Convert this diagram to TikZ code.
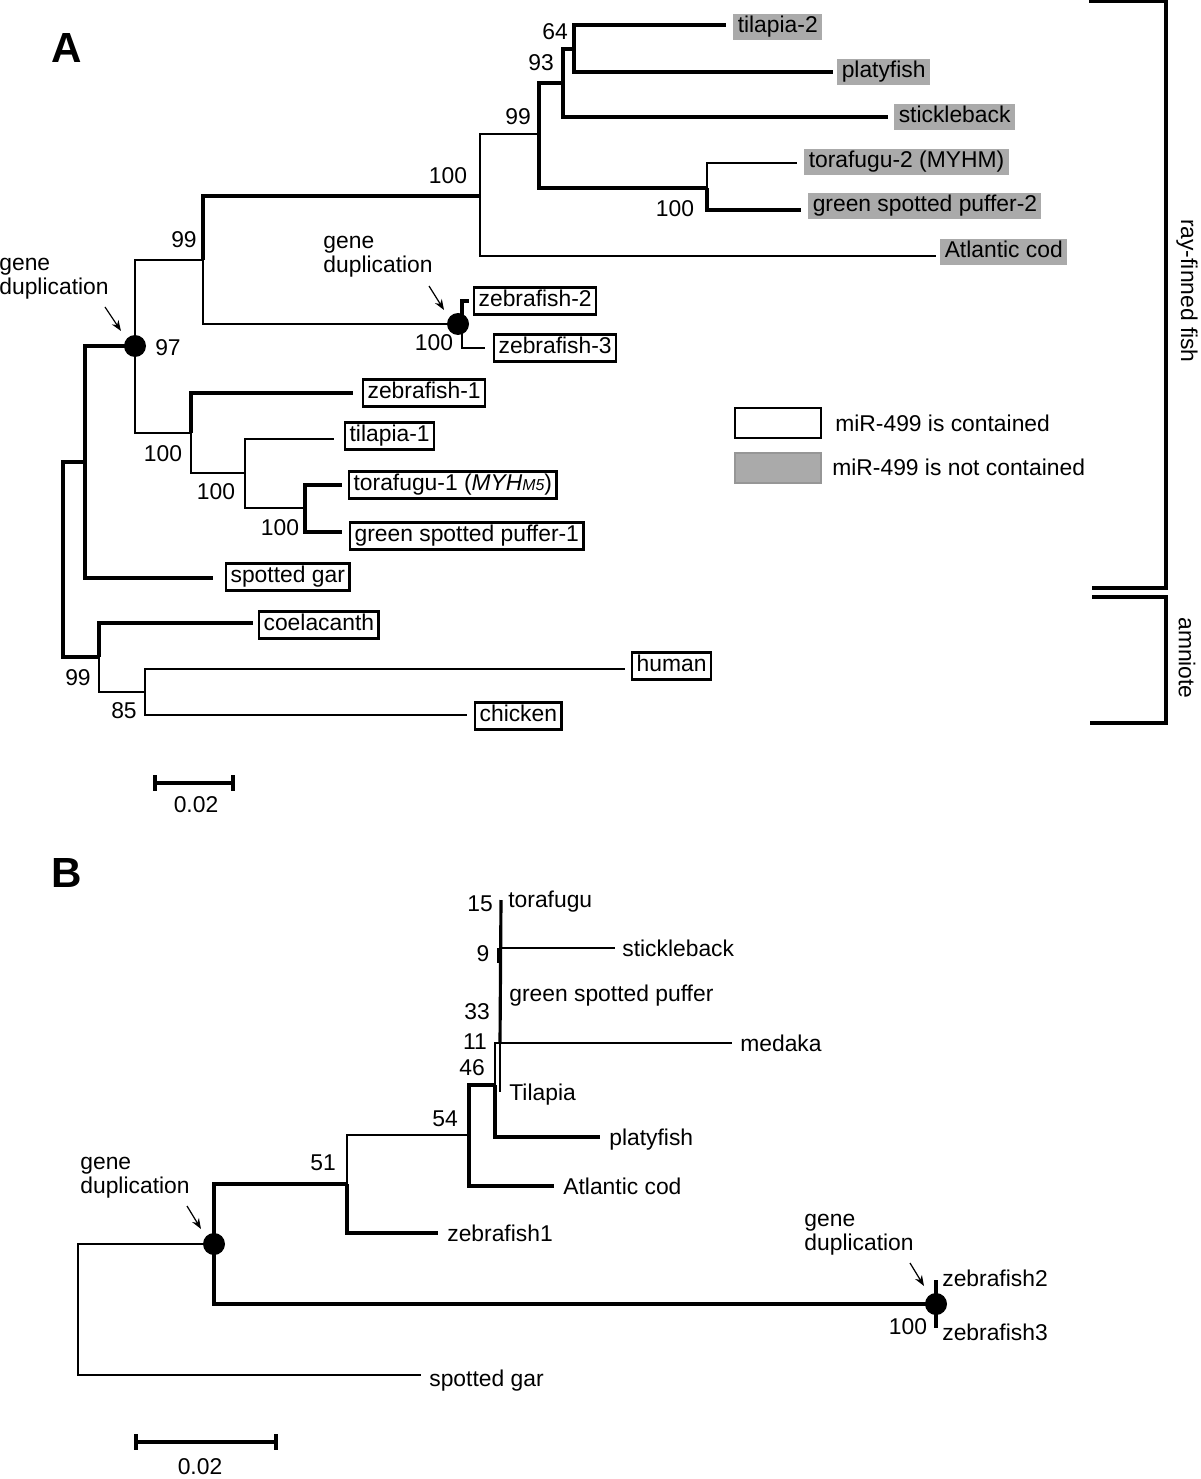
\documentclass[tikz,border=0pt]{standalone}
\usepackage{fontspec}
\setmainfont{Liberation Sans}
\usetikzlibrary{arrows.meta,positioning}

\definecolor{boxgray}{RGB}{170,170,170}
\definecolor{keygray}{RGB}{150,150,150}

\tikzset{
  thickbr/.style={line width=1.8pt},
  thinbr/.style={line width=1.1pt},
  tag/.style={anchor=west, inner xsep=2.5pt, inner ysep=1.5pt, text height=9.4pt, text depth=2.8pt},
  wbox/.style={tag, draw, line width=1.4pt},
  gbox/.style={tag, fill=boxgray},
  lab/.style={anchor=west, inner sep=0pt, text height=9.4pt, text depth=2.8pt, yshift=-1.4pt},
  bs/.style={inner sep=0pt},
  dupdot/.style={circle, fill=black, inner sep=0pt, minimum size=0.44cm},
  duptext/.style={align=left, inner sep=0pt},
  duparrow/.style={-{Stealth[length=6pt,width=4.5pt]}, line width=0.7pt},
  panel/.style={font=\fontsize{24}{24}\selectfont\bfseries, inner sep=0pt},
  clade/.style={line width=2pt},
  scalebar/.style={line width=2pt, {Bar[width=9pt]}-{Bar[width=9pt]}}
}

\begin{document}
\begin{tikzpicture}[x=0.02cm, y=-0.02cm, font=\fontsize{13}{13.6}\selectfont]

\useasboundingbox (0,0) rectangle (1200,1479);

\node[panel] (A) at (67,48) {A};
\node[panel] (B) at (67,873) {B};

% tree A
\coordinate (rootA) at (63,560);
\coordinate (nAct) at (85,462);
\coordinate (dup1) at (135,346);
\coordinate (n99a) at (203,260);
\coordinate (n100a) at (480,196);
\coordinate (n99b) at (539,134);
\coordinate (n93) at (563,83);
\coordinate (n64) at (574,49);
\coordinate (n100b) at (707,188);
\coordinate (dup2) at (462,324);
\coordinate (n100c) at (191,433);
\coordinate (n100d) at (245,473);
\coordinate (n100e) at (305,508);
\coordinate (nSarc) at (99,657);
\coordinate (nAmn) at (145,692);

\coordinate (tTila2) at (726,25);
\coordinate (tPlaty) at (833,72);
\coordinate (tStick) at (888,117);
\coordinate (tTora2) at (797,163);
\coordinate (tGsp2) at (801,210);
\coordinate (tCod) at (936,256);
\coordinate (tZf2) at (469,301);
\coordinate (tZf3) at (485,348);
\coordinate (tZf1) at (353,393);
\coordinate (tTila1) at (334,439);
\coordinate (tTora1) at (342,485);
\coordinate (tGsp1) at (342,532);
\coordinate (tGar) at (213,578);
\coordinate (tCoel) at (253,623);
\coordinate (tHuman) at (625,669);
\coordinate (tChick) at (467,715);

\draw[thickbr] (rootA) |- (nAct);
\draw[thickbr] (rootA) |- (nSarc);
\draw[thickbr] (nAct) |- (dup1);
\draw[thickbr] (nAct) |- (tGar);
\draw[thinbr] (dup1) |- (n99a);
\draw[thinbr] (dup1) |- (n100c);
\draw[thickbr] (n99a) |- (n100a);
\draw[thinbr] (n99a) |- (dup2);
\draw[thinbr] (n100a) |- (n99b);
\draw[thinbr] (n100a) |- (tCod);
\draw[thickbr] (n99b) |- (n93);
\draw[thickbr] (n99b) |- (n100b);
\draw[thickbr] (n93) |- (n64);
\draw[thickbr] (n93) |- (tStick);
\draw[thickbr] (n64) |- (tTila2);
\draw[thickbr] (n64) |- (tPlaty);
\draw[thinbr] (n100b) |- (tTora2);
\draw[thickbr] (n100b) |- (tGsp2);
\draw[thickbr] (dup2) |- (tZf2);
\draw[thinbr] (dup2) |- (tZf3);
\draw[thickbr] (n100c) |- (tZf1);
\draw[thinbr] (n100c) |- (n100d);
\draw[thinbr] (n100d) |- (tTila1);
\draw[thinbr] (n100d) |- (n100e);
\draw[thickbr] (n100e) |- (tTora1);
\draw[thickbr] (n100e) |- (tGsp1);
\draw[thickbr] (nSarc) |- (tCoel);
\draw[thinbr] (nSarc) |- (nAmn);
\draw[thinbr] (nAmn) |- (tHuman);
\draw[thinbr] (nAmn) |- (tChick);

\node[dupdot] (dotA1) at (dup1) {};
\node[dupdot] (dotA2) at ([xshift=-0.08cm]dup2) {};

\node[gbox] (tila2) at (733,27) {tilapia-2};
\node[gbox] (platy) at (837,72) {platyfish};
\node[gbox] (stick) at (894,117) {stickleback};
\node[gbox] (tora2) at (804,162) {torafugu-2 (MYHM)\hspace{5pt}};
\node[gbox] (gsp2) at (808,206) {green spotted puffer-2};
\node[gbox] (cod) at (940,252) {Atlantic cod};
\node[wbox] (zf2) at (473,301) {zebrafish-2};
\node[wbox] (zf3) at (493,348) {zebrafish-3};
\node[wbox] (zf1) at (362,393) {zebrafish-1};
\node[wbox] (tila1) at (344,436) {tilapia-1};
\node[wbox] (tora1) at (348,485) {torafugu-1 (\textit{MYH}{\fontsize{9}{9}\selectfont\itshape M5})};
\node[wbox] (gsp1) at (349,536) {green spotted puffer-1};
\node[wbox] (gar) at (225,577) {spotted gar};
\node[wbox] (coel) at (258,625) {coelacanth};
\node[wbox] (human) at (631,666) {human};
\node[wbox] (chick) at (474,716) {chicken};

\node[bs] (b64) at (555,32) {64};
\node[bs] (b93) at (541,63) {93};
\node[bs] (b99b) at (518,117) {99};
\node[bs] (b100b) at (675,209) {100};
\node[bs] (b100a) at (448,176) {100};
\node[bs] (b99a) at (184,240) {99};
\node[bs] (b97) at (168,348) {97};
\node[bs] (b100z) at (434,343) {100};
\node[bs] (b100c) at (163,454) {100};
\node[bs] (b100d) at (216,492) {100};
\node[bs] (b100e) at (280,528) {100};
\node[bs] (b99s) at (78,678) {99};
\node[bs] (b85) at (124,711) {85};

\node[duptext] (gdA1) at (54,279) {gene\\duplication};
\node[duptext] (gdA2) at (378,257) {gene\\duplication};
\coordinate (aA1) at (105,307);
\coordinate (aA1e) at (121,331);
\coordinate (aA2) at (429,286);
\coordinate (aA2e) at (444,310);
\draw[duparrow] (aA1) -- (aA1e);
\draw[duparrow] (aA2) -- (aA2e);

\draw[scalebar] (153,783) -- (235,783);
\node[bs] (sA) at (196,805) {0.02};

% legend
\node[draw, line width=1.4pt, minimum width=1.72cm, minimum height=0.6cm, inner sep=0pt] (keyw) at (778,423) {};
\node[draw=keygray, fill=boxgray, line width=1.4pt, minimum width=1.72cm, minimum height=0.6cm, inner sep=0pt] (keyg) at (778,468) {};
\node[lab] (keywt) at (835,423) {miR-499 is contained};
\node[lab] (keygt) at (832,467) {miR-499 is not contained};

% clades
\draw[clade] (1089,1) -- (1166,1) -- (1166,588) -- (1092,588);
\draw[clade] (1092,597) -- (1166,597) -- (1166,723) -- (1090,723);
\node[rotate=-90, inner sep=0pt] (ray) at (1187,291) {ray-finned fish};
\node[rotate=-90, inner sep=0pt] (amn) at (1187,658) {amniote};

% tree B
\coordinate (rootB) at (78,1310);
\coordinate (dupB1) at (214,1244);
\coordinate (n51) at (347,1184);
\coordinate (n54) at (469,1135);
\coordinate (n46) at (495,1085);
\coordinate (n11) at (500,1043);
\coordinate (n9) at (501,948);
\coordinate (dupB2) at (936,1304);

\coordinate (tGarB) at (421,1375);
\coordinate (tZf1B) at (438,1233);
\coordinate (tCodB) at (554,1186);
\coordinate (tPlatyB) at (600,1137);
\coordinate (tMedB) at (732,1043);
\coordinate (tTilaB) at (500,1092);
\coordinate (tStickB) at (615,948);
\coordinate (tToraB) at (501,900);
\coordinate (tZf2B) at (936,1280);
\coordinate (tZf3B) at (936,1328);

\draw[thinbr] (rootB) |- (dupB1);
\draw[thinbr] (rootB) |- (tGarB);
\draw[thickbr] (dupB1) |- (n51);
\draw[thickbr] (dupB1) |- (dupB2);
\draw[thinbr] (n51) |- (n54);
\draw[thickbr] (n51) |- (tZf1B);
\draw[thickbr] (n54) |- (n46);
\draw[thickbr] (n54) |- (tCodB);
\draw[thinbr] (n46) |- (n11);
\draw[thickbr] (n46) |- (tPlatyB);
\draw[thinbr] (n11) -- (tMedB);
\draw[thinbr] (n11) -- (tTilaB);
\draw[thickbr] (n11) -- (tToraB);
\draw[thinbr] (n9) -- (tStickB);
\draw[thinbr] ([xshift=-0.06cm]n9) -- ++(0,15);
\draw[thickbr] (dupB2) -- (tZf2B);
\draw[thickbr] (dupB2) -- (tZf3B);

\node[dupdot] (dotB1) at (dupB1) {};
\node[dupdot] (dotB2) at (dupB2) {};

\node[lab] (toraB) at (508,899) {torafugu};
\node[lab] (stickB) at (622,948) {stickleback};
\node[lab] (gspB) at (509,993) {green spotted puffer};
\node[lab] (medB) at (740,1043) {medaka};
\node[lab] (tilaB) at (509,1092) {Tilapia};
\node[lab] (platyB) at (609,1137) {platyfish};
\node[lab] (codB) at (563,1186) {Atlantic cod};
\node[lab] (zf1B) at (447,1233) {zebrafish1};
\node[lab] (zf2B) at (942,1278) {zebrafish2};
\node[lab] (zf3B) at (942,1332) {zebrafish3};
\node[lab] (garB) at (429,1378) {spotted gar};

\node[bs] (b15) at (480,904) {15};
\node[bs] (b9) at (483,954) {9};
\node[bs] (b33) at (477,1012) {33};
\node[bs] (b11) at (475,1042) {11};
\node[bs] (b46) at (472,1068) {46};
\node[bs] (b54) at (445,1119) {54};
\node[bs] (b51) at (323,1163) {51};
\node[bs] (b100B) at (908,1327) {100};

\node[duptext] (gdB1) at (135,1178) {gene\\duplication};
\node[duptext] (gdB2) at (859,1235) {gene\\duplication};
\coordinate (aB1) at (187,1206);
\coordinate (aB1e) at (201,1229);
\coordinate (aB2) at (910,1263);
\coordinate (aB2e) at (924,1286);
\draw[duparrow] (aB1) -- (aB1e);
\draw[duparrow] (aB2) -- (aB2e);

\draw[scalebar] (134,1442) -- (278,1442);
\node[bs] (sB) at (200,1467) {0.02};

\end{tikzpicture}
\end{document}
